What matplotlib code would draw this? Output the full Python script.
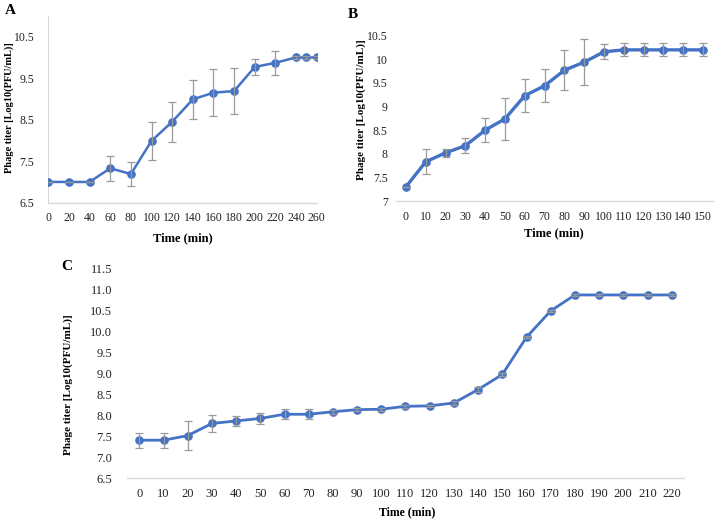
import matplotlib
matplotlib.use('Agg')
import numpy as np
import matplotlib.pyplot as plt

plt.rcParams['font.family'] = ['Liberation Serif', 'DejaVu Serif']

# panel A (numeric time axis)
a_time = [0, 20, 40, 60, 80, 100, 120, 140, 160, 180, 200, 220, 240, 250, 260]
a_titer = [7.0, 7.0, 7.0, 7.33, 7.19, 7.99, 8.45, 8.99, 9.15, 9.19, 9.77, 9.87, 10.0, 10.0, 10.0]
a_err = [0, 0, 0, 0.30, 0.28, 0.455, 0.48, 0.465, 0.56, 0.55, 0.2, 0.29, 0.04, 0.04, 0.04]
a_ticks = [0, 20, 40, 60, 80, 100, 120, 140, 160, 180, 200, 220, 240, 260]
a_yticks = [6.5, 7.5, 8.5, 9.5, 10.5]

# panel B (category axis)
b_time = ['0', '10', '20', '30', '40', '50', '60', '70', '80', '90',
          '100', '110', '120', '130', '140', '150']
b_titer = [7.30, 7.83, 8.02, 8.17, 8.50, 8.74, 9.23, 9.44, 9.77, 9.94,
           10.16, 10.2, 10.2, 10.2, 10.2, 10.2]
b_err = [0, 0.265, 0.085, 0.16, 0.255, 0.445, 0.345, 0.345, 0.43, 0.48,
         0.155, 0.135, 0.135, 0.135, 0.135, 0.135]
b_yticks = [7, 7.5, 8, 8.5, 9, 9.5, 10, 10.5]
b_ylabels = ['7', '7.5', '8', '8.5', '9', '9.5', '10', '10.5']

# panel C (category axis)
c_time = ['0', '10', '20', '30', '40', '50', '60', '70', '80', '90', '100',
          '110', '120', '130', '140', '150', '160', '170', '180', '190', '200',
          '210', '220']
c_titer = [7.41, 7.41, 7.52, 7.81, 7.87, 7.93, 8.03, 8.03, 8.09, 8.14, 8.15,
           8.22, 8.23, 8.30, 8.62, 8.98, 9.87, 10.5, 10.88, 10.88, 10.88,
           10.88, 10.88]
c_err = [0.175, 0.175, 0.345, 0.2, 0.13, 0.13, 0.12, 0.12, 0.05, 0.04, 0.04,
         0.03, 0.03, 0.04, 0.07, 0.04, 0.03, 0.03, 0.02, 0.02, 0.02, 0.02, 0.02]
c_yticks = [6.5, 7.0, 7.5, 8.0, 8.5, 9.0, 9.5, 10.0, 10.5, 11.0, 11.5]

blue = '#4472C4'
gray_err = '#9a9a9a'
axis_gray = '#d9d9d9'
ylab = 'Phage titer [Log10(PFU/mL)]'

W, H = 716, 520
fig = plt.figure(figsize=(W / 100, H / 100), dpi=100)


def box(l, r, b, t):
    return [l / W, 1 - b / H, (r - l) / W, (b - t) / H]


def style(ax, left_line=False):
    for s in ['top', 'right']:
        ax.spines[s].set_visible(False)
    ax.spines['bottom'].set_color(axis_gray)
    ax.spines['bottom'].set_linewidth(1.0)
    ax.spines['left'].set_visible(left_line)
    ax.spines['left'].set_color(axis_gray)
    ax.tick_params(length=0, labelsize=8.5, colors='#222222')


def draw(ax, x, y, e, lw):
    ax.errorbar(x, y, yerr=e, fmt='none', ecolor=gray_err, elinewidth=0.9,
                capsize=2.6, capthick=0.9, zorder=4)
    ax.plot(x, y, color=blue, lw=lw, marker='o', ms=5.2, zorder=3)


# A
axA = fig.add_axes(box(48.3, 316.7, 202.7, 15.9))
draw(axA, a_time, a_titer, a_err, 1.8)
axA.set_xlim(0, 260)
axA.set_ylim(6.5, 11.0)
axA.set_xticks(a_ticks)
axA.set_yticks(a_yticks)
axA.set_yticklabels(['%.1f' % v for v in a_yticks])
style(axA, left_line=True)
axA.tick_params(axis='y', pad=10)
axA.tick_params(axis='x', pad=7)
axA.set_xlabel('Time (min)', fontsize=9, fontweight='bold')
axA.set_ylabel(ylab, fontsize=7.5, fontweight='bold')
axA.xaxis.set_label_coords(0.5, -0.157)
axA.yaxis.set_label_coords(-0.128, 0.51)

# B
axB = fig.add_axes(box(396, 713, 201, 35.7))
xb = np.arange(len(b_time))
draw(axB, xb, b_titer, b_err, 2.4)
axB.set_xlim(-0.5, len(b_time) - 0.5)
axB.set_ylim(7, 10.5)
axB.set_xticks(xb)
axB.set_xticklabels(b_time)
axB.set_yticks(b_yticks)
axB.set_yticklabels(b_ylabels)
style(axB)
axB.tick_params(axis='y', pad=6)
axB.tick_params(axis='x', pad=7)
axB.set_xlabel('Time (min)', fontsize=9, fontweight='bold')
axB.set_ylabel(ylab, fontsize=8, fontweight='bold')
axB.xaxis.set_label_coords(0.498, -0.157)
axB.yaxis.set_label_coords(-0.095, 0.55)

# C
axC = fig.add_axes(box(127.2, 683.8, 478.3, 269))
xc = np.arange(len(c_time))
draw(axC, xc, c_titer, c_err, 2.0)
axC.set_xlim(-0.5, len(c_time) - 0.5)
axC.set_ylim(6.5, 11.5)
axC.set_xticks(xc)
axC.set_xticklabels(c_time)
axC.set_yticks(c_yticks)
axC.set_yticklabels(['%.1f' % v for v in c_yticks])
style(axC)
axC.tick_params(labelsize=9)
axC.tick_params(axis='y', pad=11)
axC.tick_params(axis='x', pad=7)
axC.set_xlabel('Time (min)', fontsize=8.5, fontweight='bold')
axC.set_ylabel(ylab, fontsize=8, fontweight='bold')
axC.xaxis.set_label_coords(0.503, -0.132)
axC.yaxis.set_label_coords(-0.097, 0.446)

for letter, px, py in [('A', 10, 11), ('B', 353, 15), ('C', 67, 266)]:
    fig.text(px / W, 1 - py / H, letter, fontsize=11, fontweight='bold',
             ha='center', va='center')

fig.savefig('out.png', dpi=100)
